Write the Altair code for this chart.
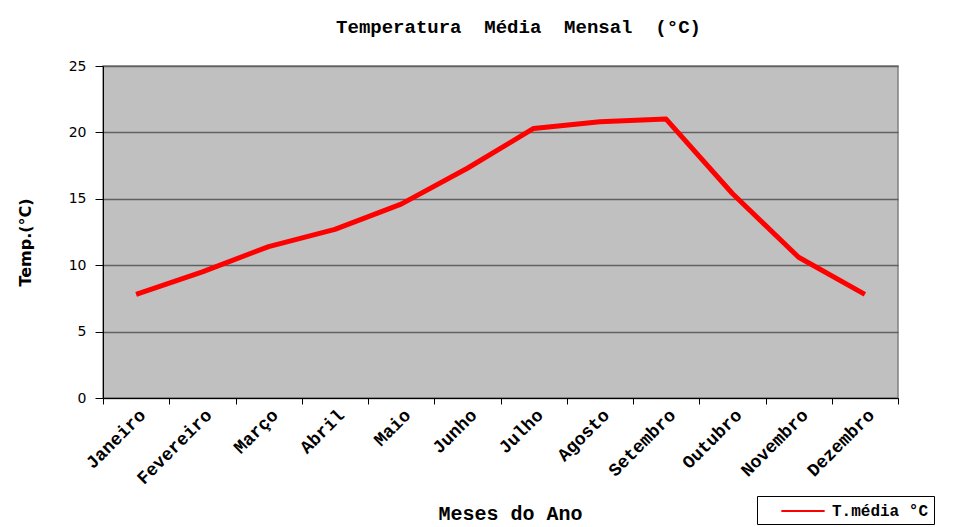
import altair as alt
import pandas as pd

meses = ["Janeiro", "Fevereiro", "Março", "Abril", "Maio", "Junho",
         "Julho", "Agosto", "Setembro", "Outubro", "Novembro", "Dezembro"]
temp = [7.8, 9.5, 11.4, 12.7, 14.6, 17.3, 20.3, 20.8, 21.0, 15.4, 10.6, 7.8]
serie = ["T.média °C"] * 12

df = pd.DataFrame({"Mês": meses, "Temp": temp, "Série": serie})

mono = "Liberation Mono"
sans = "DejaVu Sans"
nb = "\u00a0"

chart = alt.Chart(df).mark_line(strokeWidth=5, strokeJoin="round").encode(
    x=alt.X("Mês:N", sort=meses, scale=alt.Scale(paddingInner=0, paddingOuter=0),
            axis=alt.Axis(title="Meses do Ano", labelAngle=-45, labelFont=mono,
                          labelFontWeight="bold", labelFontSize=18, labelColor="#000",
                          labelPadding=2,
                          titleFont=mono, titleFontWeight="bold", titleFontSize=20,
                          titlePadding=16, titleColor="#000", titleX=407,
                          tickBand="extent", tickSize=6, tickColor="#000",
                          domainColor="#000", grid=False)),
    y=alt.Y("Temp:Q", scale=alt.Scale(domain=[0, 25], nice=False),
            axis=alt.Axis(title="Temp.(°C)", values=[0, 5, 10, 15, 20, 25],
                          labelFont=sans, labelFontSize=14, labelColor="#000",
                          labelPadding=9,
                          titleFont=sans, titleFontWeight="bold", titleFontSize=16,
                          titleColor="#000", titlePadding=35, titleY=176,
                          tickSize=8, tickColor="#000", domainColor="#000",
                          grid=True, gridColor="#606060", gridWidth=1.5)),
    color=alt.Color("Série:N", scale=alt.Scale(range=["#ff0000"]),
                    legend=alt.Legend(title=None, orient="none", legendX=654, legendY=430,
                                      symbolType="M-2.5,0L2.5,0", symbolStrokeWidth=2,
                                      symbolSize=300, symbolOffset=31,
                                      labelOffset=19,
                                      labelFont=mono, labelFontWeight="bold",
                                      labelFontSize=16, labelColor="#000",
                                      fillColor="#ffffff", strokeColor="#000",
                                      padding=5, offset=0))
).properties(
    width=795, height=332,
    title=alt.Title(f"Temperatura{nb}{nb}Média{nb}{nb}Mensal{nb}{nb}(°C)", font=mono,
                    fontWeight="bold", fontSize=19, color="#000", offset=22, dx=18),
    autosize=alt.AutoSizeParams(type="none"),
    padding={"left": 95, "top": 58, "right": 40, "bottom": 128}
).configure_view(
    fill="#c0c0c0", stroke="#808080", strokeWidth=1.5
)

chart.save("out.html", embed_options={"renderer": "svg", "actions": False})
